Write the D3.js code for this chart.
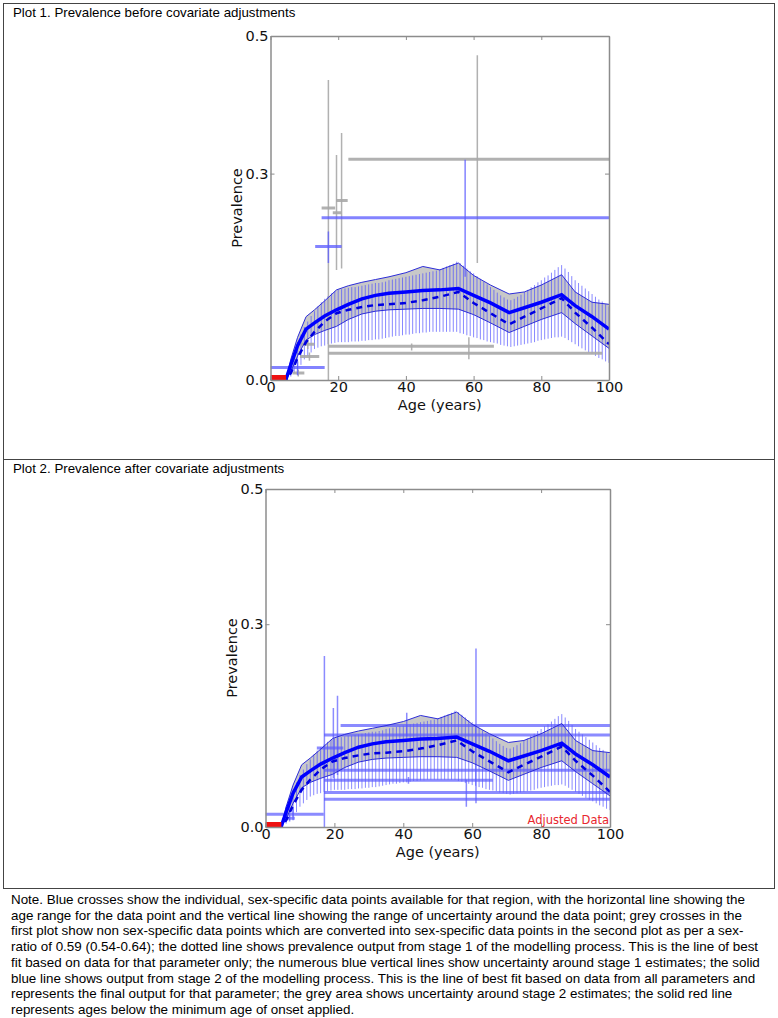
<!DOCTYPE html>
<html>
<head>
<meta charset="utf-8">
<script src="https://cdn.jsdelivr.net/npm/d3@7"></script>
<style>
body { margin: 0; background: #fff; }
</style>
</head>
<body>
<script>
// model knots (age in years) ============================================
var ages       = [0, 2, 4.5, 6, 8, 10.5, 13, 16, 19.5, 23, 27, 31, 35, 40, 45, 50, 55.5, 60, 65, 70.5, 75, 80, 86, 90, 95, 100]
var stage2     = [0, 0, 0, 0.022, 0.050, 0.074, 0.083, 0.093, 0.102, 0.110, 0.118, 0.123, 0.126, 0.128, 0.130, 0.131, 0.133, 0.123, 0.112, 0.098, 0.105, 0.113, 0.124, 0.108, 0.092, 0.074]
var stage1     = [0, 0, 0, 0.010, 0.032, 0.055, 0.070, 0.085, 0.097, 0.102, 0.106, 0.109, 0.110, 0.112, 0.116, 0.121, 0.128, 0.112, 0.097, 0.081, 0.092, 0.104, 0.119, 0.098, 0.076, 0.052]
var bandUpper  = [0, 0, 0, 0.030, 0.062, 0.092, 0.102, 0.115, 0.131, 0.137, 0.142, 0.146, 0.150, 0.156, 0.165, 0.160, 0.170, 0.152, 0.138, 0.125, 0.128, 0.138, 0.153, 0.128, 0.113, 0.110]
var bandLower  = [0, 0, 0, 0.012, 0.035, 0.058, 0.066, 0.072, 0.078, 0.088, 0.096, 0.100, 0.102, 0.103, 0.104, 0.104, 0.103, 0.095, 0.083, 0.069, 0.078, 0.088, 0.098, 0.082, 0.064, 0.046]

// stage 1 uncertainty, one vertical line per year from 5 to 100
var uncAges = d3.range(5, 101)
var uncHi = [0.012, 0.030, 0.043, 0.055, 0.066, 0.077, 0.085, 0.093, 0.100, 0.107, 0.113, 0.118, 0.122, 0.126, 0.129, 0.131,
             0.132, 0.133, 0.134, 0.135, 0.135, 0.136, 0.137, 0.138, 0.139, 0.140, 0.141, 0.141, 0.142, 0.143, 0.145,
             0.146, 0.147, 0.148, 0.149, 0.150, 0.151, 0.152, 0.153, 0.154, 0.155, 0.156, 0.157, 0.158, 0.159, 0.161,
             0.163, 0.165, 0.167, 0.169, 0.172, 0.170, 0.166, 0.162, 0.158, 0.155, 0.151, 0.147, 0.143, 0.139, 0.135,
             0.131, 0.127, 0.123, 0.120, 0.117, 0.116, 0.118, 0.121, 0.124, 0.128, 0.131, 0.135, 0.138, 0.142, 0.145,
             0.149, 0.152, 0.156, 0.160, 0.164, 0.167, 0.162, 0.157, 0.151, 0.145, 0.141, 0.137, 0.133, 0.129, 0.125,
             0.121, 0.117, 0.114, 0.110, 0.107]
var uncLo = [0.000, 0.005, 0.010, 0.015, 0.022, 0.030, 0.035, 0.040, 0.045, 0.047, 0.049, 0.050, 0.052, 0.053, 0.054, 0.055,
             0.055, 0.055, 0.055, 0.056, 0.056, 0.056, 0.057, 0.057, 0.058, 0.058, 0.059, 0.059, 0.060, 0.061, 0.062,
             0.063, 0.064, 0.064, 0.065, 0.066, 0.066, 0.067, 0.068, 0.068, 0.069, 0.069, 0.070, 0.070, 0.070, 0.070,
             0.070, 0.070, 0.070, 0.070, 0.070, 0.068, 0.067, 0.065, 0.064, 0.062, 0.061, 0.059, 0.058, 0.056, 0.055,
             0.054, 0.053, 0.051, 0.050, 0.049, 0.048, 0.049, 0.050, 0.051, 0.052, 0.053, 0.054, 0.055, 0.057, 0.058,
             0.059, 0.060, 0.061, 0.062, 0.062, 0.063, 0.061, 0.058, 0.055, 0.052, 0.049, 0.046, 0.043, 0.040, 0.038,
             0.035, 0.032, 0.030, 0.027, 0.025]

// data crosses: [age start, age end, value, age of vertical, low, high]
var greyData1 = [
    [15.1, 19.1, 0.250, 17.1, 0.000, 0.436],
    [18.4, 21.0, 0.243, 19.5, 0.160, 0.327],
    [19.4, 22.8, 0.261, 21.0, 0.162, 0.359],
    [23.0, 100, 0.321, 61.1, 0.170, 0.472],
    [17.0, 66.0, 0.049, 41.7, 0.043, 0.053],
    [17.0, 98.0, 0.039, 58.6, 0.030, 0.062],
    [8.7, 14.4, 0.034, 11.5, 0.028, 0.040],
    [6.5, 10.0, 0.010, 8.2, 0.005, 0.015],
    [9.0, 13.0, 0.052, 11.0, 0.045, 0.060]
]
var blueData1 = [
    [15.1, 100, 0.236, 57.5, 0.150, 0.320],
    [13.2, 21.0, 0.194, 17.1, 0.170, 0.216],
    [0.0, 16.0, 0.018, 8.0, 0.007, 0.027]
]
var blueData2 = [
    [21.8, 100, 0.150, 61.1, 0.035, 0.264],
    [17.0, 100, 0.136, 41.0, 0.134, 0.169],
    [14.9, 22.6, 0.117, 20.9, 0.077, 0.194],
    [17.0, 100, 0.084, 19.7, 0.072, 0.176],
    [17.0, 66.0, 0.069, 41.5, 0.064, 0.074],
    [17.0, 100, 0.051, 58.3, 0.030, 0.070],
    [17.0, 100, 0.041, 17.1, 0.000, 0.253],
    [0.0, 16.9, 0.019, 8.0, 0.010, 0.028],
    [6.0, 8.5, 0.013, 7.0, 0.008, 0.018]
]
var onsetAges = [0, 4.6]

var xTicks = [0, 20, 40, 60, 80, 100]
var yTicks = [0, 0.3, 0.5]

var noteLines = [
    "Note. Blue crosses show the individual, sex-specific data points available for that region, with the horizontal line showing the",
    "age range for the data point and the vertical line showing the range of uncertainty around the data point; grey crosses in the",
    "first plot show non sex-specific data points which are converted into sex-specific data points in the second plot as per a sex-",
    "ratio of 0.59 (0.54-0.64); the dotted line shows prevalence output from stage 1 of the modelling process. This is the line of best",
    "fit based on data for that parameter only; the numerous blue vertical lines show uncertainty around stage 1 estimates; the solid",
    "blue line shows output from stage 2 of the modelling process. This is the line of best fit based on data from all parameters and",
    "represents the final output for that parameter; the grey area shows uncertainty around stage 2 estimates; the solid red line",
    "represents ages below the minimum age of onset applied."
]

// page ==================================================================
var fontText = "Liberation Sans, Arial, sans-serif"
var fontAxis = "DejaVu Sans, sans-serif"

var svg = d3.select("body").append("svg")
    .attr("width", 778)
    .attr("height", 1018)

svg.append("rect")
    .attr("x", 3.5).attr("y", 3.5)
    .attr("width", 771).attr("height", 885)
    .style("fill", "none").style("stroke", "#444").style("stroke-width", 1)
svg.append("line")
    .attr("x1", 3.5).attr("x2", 774.5).attr("y1", 459.5).attr("y2", 459.5)
    .style("stroke", "#444").style("stroke-width", 1)

svg.append("text").attr("x", 13).attr("y", 17)
    .attr("font-family", fontText).attr("font-size", "13.3px")
    .text("Plot 1. Prevalence before covariate adjustments")
svg.append("text").attr("x", 13).attr("y", 473)
    .attr("font-family", fontText).attr("font-size", "13.3px")
    .text("Plot 2. Prevalence after covariate adjustments")

svg.append("g").selectAll("text")
    .data(noteLines)
    .enter().append("text")
    .attr("x", 11)
    .attr("y", function(d, i) { return 904 + i * 15.7 })
    .attr("font-family", fontText)
    .attr("font-size", "13.4px")
    .text(function(d) { return d })

// one plot ==============================================================
function drawPlot(cfg) {
    var x = d3.scaleLinear().domain([0, 100]).range([cfg.left, cfg.right])
    var y = d3.scaleLinear().domain([0, 0.5]).range([cfg.bottom, cfg.top])

    var g = svg.append("g")
    var clipId = "clip" + cfg.id
    g.append("clipPath").attr("id", clipId)
        .append("rect")
        .attr("x", cfg.left).attr("y", cfg.top)
        .attr("width", cfg.right - cfg.left).attr("height", cfg.bottom - cfg.top)

    var body = g.append("g").attr("clip-path", "url(#" + clipId + ")")

    var idx = d3.range(ages.length)

    // grey band of stage 2 uncertainty
    body.append("path")
        .datum(idx)
        .attr("d", d3.area()
            .x(function(i) { return x(ages[i]) })
            .y0(function(i) { return y(bandLower[i]) })
            .y1(function(i) { return y(bandUpper[i]) }))
        .style("fill", "#c8c8c8")

    // stage 1 uncertainty lines
    body.append("g").selectAll("line")
        .data(uncAges)
        .enter().append("line")
        .attr("x1", function(d) { return x(d) })
        .attr("x2", function(d) { return x(d) })
        .attr("y1", function(d, i) { return y(uncLo[i]) })
        .attr("y2", function(d, i) { return y(uncHi[i]) })
        .style("stroke", "#4a4aff")
        .style("stroke-opacity", 0.65)
        .style("stroke-width", 1)

    // data crosses
    function crosses(data, color, opacity) {
        var c = body.append("g").selectAll("g")
            .data(data)
            .enter().append("g")
            .style("stroke", color)
            .style("stroke-opacity", opacity)
        c.append("line")
            .attr("x1", function(d) { return x(d[0]) })
            .attr("x2", function(d) { return x(d[1]) })
            .attr("y1", function(d) { return y(d[2]) })
            .attr("y2", function(d) { return y(d[2]) })
            .style("stroke-width", 3)
        c.append("line")
            .attr("x1", function(d) { return x(d[3]) })
            .attr("x2", function(d) { return x(d[3]) })
            .attr("y1", function(d) { return y(d[4]) })
            .attr("y2", function(d) { return y(d[5]) })
            .style("stroke-width", 1.5)
    }
    if (cfg.grey) crosses(cfg.grey, "#a8a8a8", 0.9)
    crosses(cfg.blue, "#5a5aff", cfg.blueOpacity)

    // band edges
    ;[bandUpper, bandLower].forEach(function(arr) {
        body.append("path")
            .datum(idx)
            .attr("d", d3.line()
                .x(function(i) { return x(ages[i]) })
                .y(function(i) { return y(arr[i]) }))
            .style("fill", "none")
            .style("stroke", "#2c2cd8")
            .style("stroke-width", 1)
    })

    // stage 1 fit
    body.append("path")
        .datum(idx)
        .attr("d", d3.line()
            .x(function(i) { return x(ages[i]) })
            .y(function(i) { return y(stage1[i]) }))
        .style("fill", "none")
        .style("stroke", "#0000e0")
        .style("stroke-width", 2.5)
        .style("stroke-dasharray", "6,5")

    // stage 2 fit
    body.append("path")
        .datum(idx)
        .attr("d", d3.line()
            .x(function(i) { return x(ages[i]) })
            .y(function(i) { return y(stage2[i]) }))
        .style("fill", "none")
        .style("stroke", "#0000ff")
        .style("stroke-width", 3.5)

    // minimum age of onset
    body.append("line")
        .attr("x1", x(onsetAges[0])).attr("x2", x(onsetAges[1]))
        .attr("y1", y(0)).attr("y2", y(0))
        .style("stroke", "#ee1111")
        .style("stroke-width", 10)

    // axes
    var bottom = g.append("g")
        .attr("transform", "translate(0," + cfg.bottom + ")")
        .call(d3.axisBottom(x).tickValues(xTicks).tickSize(-4).tickSizeOuter(0).tickPadding(2))
    var left = g.append("g")
        .attr("transform", "translate(" + cfg.left + ",0)")
        .call(d3.axisLeft(y).tickValues(yTicks).tickSize(-4).tickSizeOuter(0).tickPadding(2)
            .tickFormat(d3.format(".1f")))
    var top = g.append("g")
        .attr("transform", "translate(0," + cfg.top + ")")
        .call(d3.axisTop(x).tickValues(xTicks).tickSize(-4).tickSizeOuter(0).tickFormat(""))
    var right = g.append("g")
        .attr("transform", "translate(" + cfg.right + ",0)")
        .call(d3.axisRight(y).tickValues(yTicks).tickSize(-4).tickSizeOuter(0).tickFormat(""))

    ;[bottom, left, top, right].forEach(function(a) {
        a.select(".domain").style("stroke", "#8c8c8c").style("stroke-width", 1.5)
        a.selectAll(".tick line").style("stroke", "#8c8c8c")
        a.selectAll("text")
            .attr("font-family", fontAxis)
            .attr("font-size", "14.5px")
            .style("fill", "#111")
    })

    g.append("text")
        .attr("transform", "translate(" + (cfg.left - 28.5) + "," + ((cfg.top + cfg.bottom) / 2) + ") rotate(-90)")
        .attr("text-anchor", "middle")
        .attr("font-family", fontAxis)
        .attr("font-size", "14.5px")
        .style("fill", "#111")
        .text("Prevalence")

    g.append("text")
        .attr("x", (cfg.left + cfg.right) / 2)
        .attr("y", cfg.bottom + 30)
        .attr("text-anchor", "middle")
        .attr("font-family", fontAxis)
        .attr("font-size", "14.5px")
        .style("fill", "#111")
        .text("Age (years)")

    if (cfg.adjusted) {
        g.append("text")
            .attr("x", cfg.right - 1)
            .attr("y", cfg.bottom - 3)
            .attr("text-anchor", "end")
            .attr("font-family", fontAxis)
            .attr("font-size", "11.5px")
            .style("fill", "#e8262e")
            .text("Adjusted Data")
    }
}

drawPlot({ id: 1, left: 270.5, right: 609, top: 36, bottom: 380,
           grey: greyData1, blue: blueData1, blueOpacity: 0.75 })
drawPlot({ id: 2, left: 265.5, right: 610, top: 489, bottom: 827,
           grey: null, blue: blueData2, blueOpacity: 0.7, adjusted: true })
</script>
</body>
</html>
